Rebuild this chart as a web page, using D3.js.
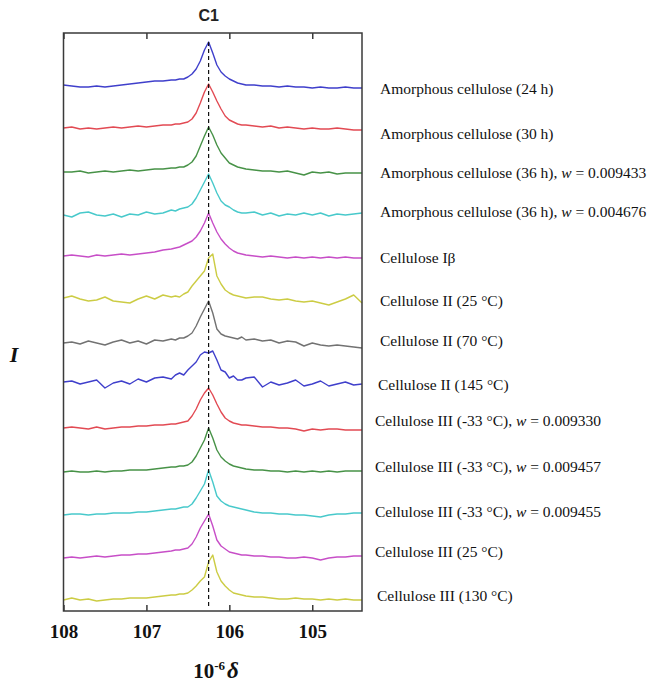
<!DOCTYPE html>
<html lang="en">
<head>
<meta charset="utf-8">
<title>C1 spectra</title>
<script src="https://cdn.jsdelivr.net/npm/d3@7"></script>
<style>
  body { margin: 0; background: #fff; }
  svg { display: block; }
</style>
</head>
<body>
<script>

// chemical shift grid (10^-6 δ), shared by every trace
var delta = [108.0, 107.9, 107.8, 107.7, 107.6, 107.5, 107.4, 107.3, 107.2, 107.1, 107.0, 106.9, 106.8, 106.7,
             106.65, 106.6, 106.55, 106.5, 106.45, 106.4, 106.35, 106.3, 106.25, 106.2, 106.15, 106.1, 106.05, 106.0, 105.95, 105.9, 105.85,
             105.8, 105.7, 105.6, 105.5, 105.4, 105.3, 105.2, 105.1, 105.0, 104.9, 104.8, 104.7, 104.6, 104.5, 104.4];

var xTicks = [108, 107, 106, 105];
var peakRef = 106.25;

var labels = [
  ["Amorphous cellulose (24 h)"],
  ["Amorphous cellulose (30 h)"],
  ["Amorphous cellulose (36 h), ", "w", " = 0.009433"],
  ["Amorphous cellulose (36 h), ", "w", " = 0.004676"],
  ["Cellulose I\u03b2"],
  ["Cellulose II (25 \u00b0C)"],
  ["Cellulose II (70 \u00b0C)"],
  ["Cellulose II (145 \u00b0C)"],
  ["Cellulose III (-33 \u00b0C), ", "w", " = 0.009330"],
  ["Cellulose III (-33 \u00b0C), ", "w", " = 0.009457"],
  ["Cellulose III (-33 \u00b0C), ", "w", " = 0.009455"],
  ["Cellulose III (25 \u00b0C)"],
  ["Cellulose III (130 \u00b0C)"]
];

// stacking offset of each trace (same units as intensity)
var offsets = [526, 483, 439, 396, 355, 313, 268, 229, 183, 139, 96, 53, 11];

// intensities relative to each trace's baseline
var s1  = [0,-1,-2,-2,-1,-2,-1,0,1,2,3,4,4,5, 5,6,6,8,11,16,24,35,43,32,20,13,9,6,4,2,1, 0,0,-1,-1,-2,-1,-2,-2,-3,-2,-3,-3,-2,-3,-3];
var s2  = [0,1,-1,0,-1,0,1,0,1,2,1,2,3,3, 4,4,5,6,9,15,25,36,44,36,27,19,12,8,6,4,3, 3,2,1,2,0,1,0,-1,0,-1,-1,0,-1,-2,-2];
var s3  = [0,0,1,-1,0,1,0,1,2,1,2,3,3,4, 4,5,5,7,10,16,26,36,45,37,27,19,14,9,7,5,4, 3,2,1,1,0,1,-1,-3,0,-1,0,-2,-1,-1,-1];
var s4  = [0,-2,2,3,0,-1,1,-2,1,0,3,1,2,5, 4,6,7,8,11,17,25,33,41,32,22,14,10,8,5,3,2, 2,3,0,2,-1,1,0,2,0,2,-1,1,0,1,2];
var s5  = [0,1,0,-1,1,0,1,2,1,2,3,4,6,7, 8,9,11,13,15,19,25,33,43,33,24,17,12,8,5,3,2, 1,0,-1,0,-1,-2,-1,-2,-1,-2,-1,-2,-1,-2,-2];
var s6  = [0,2,-1,-3,-2,1,-3,-4,-5,-1,2,-1,3,1, 2,1,4,6,12,17,22,27,40,44,22,14,8,5,3,2,1, 0,1,1,-1,-2,-1,-3,-4,-3,-5,-7,-4,-1,3,-5];
var s7  = [0,1,-1,2,0,-2,1,3,0,2,-1,3,2,4, 3,5,5,7,10,17,26,34,42,30,14,9,7,6,5,4,6, 3,4,2,3,0,2,1,-3,0,-2,-3,-2,-3,-4,-5];
var s8  = [0,1,-2,0,2,-6,-1,1,-2,3,0,4,5,3, 7,9,7,12,16,20,27,30,29,31,22,12,10,4,6,2,2, 4,5,-5,0,-3,-1,2,-4,-2,1,-4,-2,0,-3,-2];
var s9  = [0,1,0,-1,1,-1,0,1,1,2,2,3,3,4, 4,5,6,7,12,19,28,35,40,33,24,16,10,7,5,4,3, 3,2,1,1,0,0,-1,-3,-1,-2,-1,-1,-2,-2,-2];
var s10 = [0,1,0,0,1,0,1,1,2,2,2,3,4,5, 5,6,6,7,10,16,24,32,44,34,22,15,11,8,6,5,4, 3,2,2,1,1,0,1,0,1,0,1,0,1,1,1];
var s11 = [0,1,1,0,1,1,2,2,2,3,3,4,5,6, 6,7,8,8,11,17,24,31,45,33,19,14,11,9,8,7,6, 5,3,2,2,1,1,0,0,-1,-2,0,1,1,2,2];
var s12 = [0,1,0,1,2,1,2,3,3,4,4,5,6,7, 8,8,9,10,14,21,30,37,44,32,18,12,9,6,5,4,3, 3,2,2,1,1,0,0,1,0,-2,0,1,1,2,2];
var s13 = [0,2,0,1,-1,0,1,1,2,2,2,3,4,5, 5,6,6,7,10,14,19,23,38,45,28,19,14,10,7,6,5, 4,3,3,2,1,1,2,1,1,0,1,0,1,0,0];

var series = [s1, s2, s3, s4, s5, s6, s7, s8, s9, s10, s11, s12, s13];

var colors = ["#3535c8", "#e0404a", "#3d8c3d", "#3ec6c8", "#c444c4", "#c9c93a", "#6a6a6a",
              "#3535c8", "#e0404a", "#3d8c3d", "#3ec6c8", "#c444c4", "#c9c93a"];

// small nudges for the right-hand labels (px)
var labelDy = [9, 11, 6, 2, 7, 8, 3, 8, -2, 0, 2, -1, 1];
var labelDx = [18, 18, 18, 18, 18, 18, 18, 16, 13, 13, 13, 13, 15];

var margin = {top: 33, left: 63.5};
var width = 298.5;
var height = 578;

var serif = "'Liberation Serif', 'Times New Roman', serif";

var svg = d3.select("body")
            .append("svg")
            .attr("width", 649)
            .attr("height", 684);

var g = svg.append("g")
           .attr("transform", "translate(" + margin.left + "," + margin.top + ")");

var xscale = d3.scaleLinear()
               .domain([108, 104.4])
               .range([0, width]);

var yscale = d3.scaleLinear()
               .domain([0, 578])
               .range([height, 0]);

var line = d3.line()
             .x(function(d, i) { return xscale(delta[i]); })
             .y(function(d) { return d; });

// traces
g.selectAll("path.trace")
 .data(series)
 .enter()
 .append("path")
 .attr("class", "trace")
 .attr("d", function(s, k) {
   return line(s.map(function(v) { return yscale(offsets[k] + v); }));
 })
 .attr("fill", "none")
 .attr("stroke", function(d, k) { return colors[k]; })
 .attr("stroke-width", 1.4)
 .attr("stroke-linejoin", "round")
 .attr("opacity", 0.95);

// dashed reference line through the peaks
g.append("line")
 .attr("x1", xscale(peakRef))
 .attr("x2", xscale(peakRef))
 .attr("y1", yscale(offsets[0] + d3.max(s1)))
 .attr("y2", yscale(offsets[12] - 8))
 .attr("stroke", "#111")
 .attr("stroke-width", 1.2)
 .attr("stroke-dasharray", "4,3");

// frame
g.append("rect")
 .attr("x", 0)
 .attr("y", 0)
 .attr("width", width)
 .attr("height", height)
 .attr("fill", "none")
 .attr("stroke", "#3a3a3a")
 .attr("stroke-width", 1.5);

var xAxis = d3.axisBottom(xscale)
              .tickValues(xTicks)
              .tickFormat(d3.format("d"))
              .tickSizeInner(-6)
              .tickSizeOuter(0)
              .tickPadding(14);

var xAxisTop = d3.axisTop(xscale)
                 .tickValues(xTicks)
                 .tickFormat("")
                 .tickSizeInner(-6)
                 .tickSizeOuter(0);

var gx = g.append("g")
          .attr("transform", "translate(0," + height + ")")
          .call(xAxis);

var gt = g.append("g").call(xAxisTop);

[gx, gt].forEach(function(a) {
  a.select(".domain").remove();
  a.selectAll(".tick line").attr("stroke", "#3a3a3a").attr("stroke-width", 1.5);
});

gx.selectAll(".tick text")
  .attr("fill", "#111")
  .style("font-family", serif)
  .style("font-size", "19px")
  .style("font-weight", "bold");

// labels on the right
var lab = svg.selectAll("text.label")
             .data(labels)
             .enter()
             .append("text")
             .attr("class", "label")
             .attr("x", function(d, k) { return margin.left + width + labelDx[k]; })
             .attr("y", function(d, k) { return margin.top + yscale(offsets[k]) + labelDy[k]; })
             .style("font-family", serif)
             .style("font-size", "15.5px")
             .attr("fill", "#111");

lab.selectAll("tspan")
   .data(function(d) { return d; })
   .enter()
   .append("tspan")
   .text(function(d) { return d; })
   .style("font-style", function(d) { return d === "w" ? "italic" : null; });

// title
svg.append("text")
   .attr("x", margin.left + xscale(peakRef))
   .attr("y", 21)
   .attr("text-anchor", "middle")
   .style("font-family", "'Liberation Sans', Arial, sans-serif")
   .style("font-size", "16px")
   .style("font-weight", "bold")
   .attr("fill", "#222")
   .text("C1");

// y label
svg.append("text")
   .attr("x", 14)
   .attr("y", 362)
   .attr("text-anchor", "middle")
   .style("font-family", serif)
   .style("font-size", "22px")
   .style("font-weight", "bold")
   .style("font-style", "italic")
   .attr("fill", "#111")
   .text("I");

// x label: 10^-6 δ
var xl = svg.append("text")
            .attr("x", 216)
            .attr("y", 678)
            .attr("text-anchor", "middle")
            .style("font-family", serif)
            .style("font-size", "21px")
            .style("font-weight", "bold")
            .attr("fill", "#111");

xl.append("tspan").text("10");
xl.append("tspan").attr("dy", -8).style("font-size", "13px").text("-6");
xl.append("tspan").attr("dy", 8).attr("dx", 2).style("font-style", "italic").style("font-size", "23px").text("\u03b4");

</script>
</body>
</html>
